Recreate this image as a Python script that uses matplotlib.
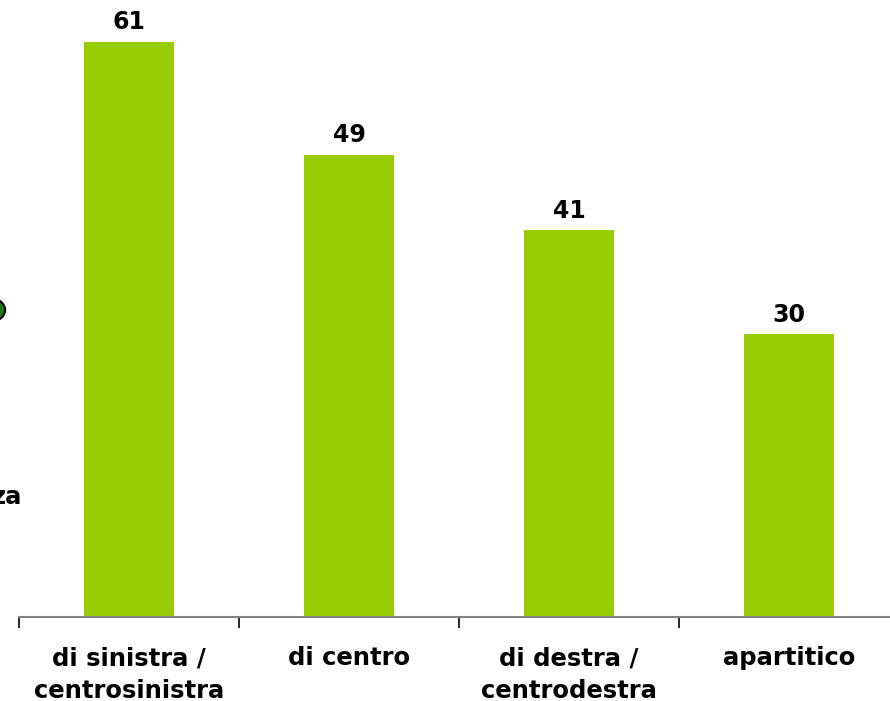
import matplotlib.pyplot as plt
from matplotlib.patches import Circle

categories = ["di sinistra /\ncentrosinistra", "di centro", "di destra /\ncentrodestra", "apartitico"]
values = [61, 49, 41, 30]

W, H = 890, 701
fig = plt.figure(figsize=(W / 100, H / 100), dpi=100)

# axes placed so that category slots are 220 px wide starting at x=19
x0 = 19 / W
base = (H - 617) / H
ax = fig.add_axes([x0, base, 1 - x0, 1 - base])

ax.bar(range(len(values)), values, width=90 / 220, color="#99cc00")
for i, v in enumerate(values):
    ax.text(i, v + 0.8, str(v), ha="center", va="bottom",
            fontsize=17, fontweight="bold", color="black")

for s in ["top", "right", "left"]:
    ax.spines[s].set_visible(False)
ax.spines["bottom"].set_color("#808080")
ax.spines["bottom"].set_linewidth(1.5)
ax.set_yticks([])

ax.set_xticks(range(len(categories)))
ax.set_xticklabels(categories, fontsize=17.5, fontweight="bold", linespacing=1.45)
ax.tick_params(axis="x", which="major", length=0, pad=21)
ax.set_xticks([i - 0.5 for i in range(len(categories) + 1)], minor=True)
ax.tick_params(axis="x", which="minor", length=8, color="black", width=1.2)

# limits last, set_xticks would widen them
ax.set_xlim(-0.5, (W - 19) / 220 - 0.5)
ax.set_ylim(0, 617 / 9.43)

# fragments from a neighbouring panel cut off at the left edge
fig.text(22 / W, 1 - 497 / H, "za", ha="right", va="center",
         fontsize=17.5, fontweight="bold", color="black")
fig.patches.append(Circle((-10 / W, 1 - 310 / H), 0.017, transform=fig.transFigure,
                          facecolor="#1a7a1a", edgecolor="black", linewidth=1.5))

fig.savefig("out.png", dpi=100)
